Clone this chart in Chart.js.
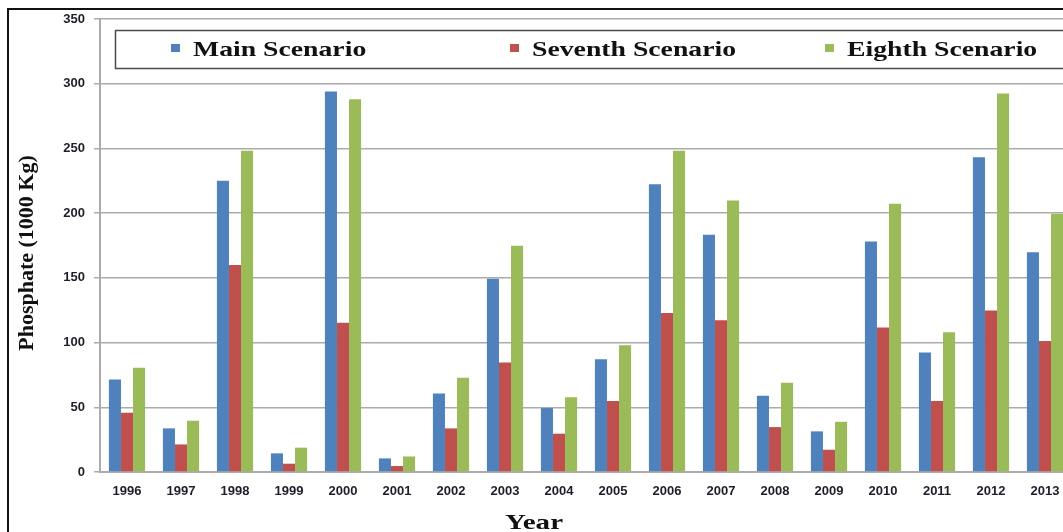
<!DOCTYPE html>
<html>
<head>
<meta charset="utf-8">
<script src="https://cdn.jsdelivr.net/npm/chart.js@4.4.1/dist/chart.umd.min.js"></script>
<style>
  html, body { margin: 0; padding: 0; overflow: hidden; background: #fff; width: 1063px; height: 532px; }
  #wrap { position: absolute; left: 0; top: 0; width: 1072px; height: 532px; }
</style>
</head>
<body>
<div id="wrap"><canvas id="c" width="1072" height="532"></canvas></div>
<script>
// ---- data ----
const years = ['1996','1997','1998','1999','2000','2001','2002','2003','2004','2005','2006','2007','2008','2009','2010','2011','2012','2013'];
const mainScenario    = [71.5, 33.7, 225, 14.4, 294, 10.5, 60.7, 149.4, 49.4, 87.1, 222.4, 183.3, 58.9, 31.4, 178.1, 92.3, 243.2, 169.7];
const seventhScenario = [45.8, 21.3, 160, 6.4, 115.4, 4.6, 33.7, 84.6, 29.6, 54.8, 122.9, 117.2, 34.7, 17.2, 111.6, 54.8, 124.7, 101.3];
const eighthScenario  = [80.5, 39.6, 248.3, 18.8, 288, 12, 72.8, 174.8, 57.8, 97.9, 248.3, 209.8, 68.9, 38.8, 207.2, 108, 292.5, 199.5];
const seriesNames = ['Main Scenario', 'Seventh Scenario', 'Eighth Scenario'];
const yTitle = 'Phosphate (1000 Kg)';
const xTitle = 'Year';

const colors = ['#4F81BD', '#C0504D', '#9BBB59'];
const gridColor = '#ababab';

const decor = {
  id: 'decor',
  beforeDraw(chart) {
    const ctx = chart.ctx;
    ctx.save();
    ctx.fillStyle = '#fff';
    ctx.fillRect(0, 0, chart.width, chart.height);
    ctx.restore();
  },
  afterDraw(chart) {
    const ctx = chart.ctx;
    ctx.save();
    // outer frame
    ctx.strokeStyle = '#111';
    ctx.lineWidth = 2;
    ctx.strokeRect(8, 9, chart.width + 20, chart.height + 20);

    // legend box
    ctx.fillStyle = '#fff';
    ctx.fillRect(115, 30, chart.width, 38);
    ctx.strokeStyle = '#4a4a4a';
    ctx.lineWidth = 1.5;
    ctx.strokeRect(115.5, 30.5, chart.width + 10, 38);

    const markerX = [171, 510, 825];
    const sx = 1.32;
    ctx.font = 'bold 21px "Liberation Serif", "Times New Roman", serif';
    ctx.textBaseline = 'alphabetic';
    ctx.fillStyle = '#111';
    chart.data.datasets.forEach((ds, i) => {
      ctx.fillStyle = ds.backgroundColor;
      ctx.fillRect(markerX[i], 44, 9, 8);
      ctx.save();
      ctx.translate(markerX[i] + 22, 56);
      ctx.scale(sx, 1);
      ctx.fillStyle = '#111';
      ctx.fillText(ds.label, 0, 0);
      ctx.restore();
    });

    // y title
    ctx.save();
    ctx.translate(33, 253);
    ctx.rotate(-Math.PI / 2);
    ctx.font = 'bold 22px "Liberation Serif", "Times New Roman", serif';
    ctx.textAlign = 'center';
    ctx.textBaseline = 'alphabetic';
    ctx.fillStyle = '#111';
    ctx.fillText(yTitle, 0, 0);
    ctx.restore();

    // x title
    ctx.save();
    ctx.translate(534, 529);
    ctx.scale(sx, 1);
    ctx.font = 'bold 22px "Liberation Serif", "Times New Roman", serif';
    ctx.textAlign = 'center';
    ctx.fillStyle = '#111';
    ctx.fillText(xTitle, 0, 0);
    ctx.restore();

    ctx.restore();
  }
};

new Chart(document.getElementById('c'), {
  type: 'bar',
  data: {
    labels: years,
    datasets: [
      { label: seriesNames[0], data: mainScenario, backgroundColor: colors[0] },
      { label: seriesNames[1], data: seventhScenario, backgroundColor: colors[1] },
      { label: seriesNames[2], data: eighthScenario, backgroundColor: colors[2] }
    ]
  },
  options: {
    responsive: false,
    animation: false,
    devicePixelRatio: 1,
    layout: { padding: { top: 19, left: 0, right: 0, bottom: 0 } },
    plugins: { legend: { display: false }, tooltip: { enabled: false } },
    datasets: { bar: { barPercentage: 1.0, categoryPercentage: 0.67 } },
    scales: {
      x: {
        grid: { display: false, drawTicks: false },
        border: { display: true, color: gridColor, width: 2 },
        ticks: {
          padding: 12,
          color: '#1e1e2a',
          font: { family: '"Liberation Sans", Arial, sans-serif', size: 13, weight: 'bold' },
          maxRotation: 0, autoSkip: false
        },
        afterFit(scale) { scale.height = 60; }
      },
      y: {
        min: 0, max: 350,
        ticks: {
          stepSize: 50, padding: 9,
          color: '#1e1e2a',
          font: { family: '"Liberation Sans", Arial, sans-serif', size: 13, weight: 'bold' }
        },
        grid: { color: gridColor, lineWidth: 1.5, tickLength: 6, drawTicks: true },
        border: { display: true, color: gridColor, width: 2 },
        afterFit(scale) { scale.width = 100; }
      }
    }
  },
  plugins: [decor]
});
</script>
</body>
</html>
